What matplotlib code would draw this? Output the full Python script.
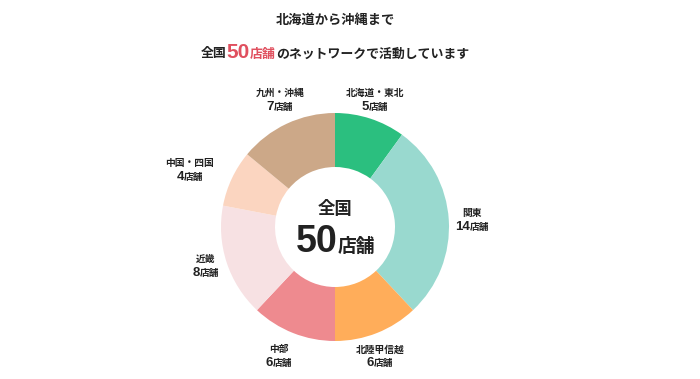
import numpy as np
import matplotlib.pyplot as plt
from matplotlib.offsetbox import TextArea, HPacker, AnnotationBbox

plt.rcParams['font.family'] = ['Noto Sans CJK JP', 'DejaVu Sans']

# データ
regions = ["北海道・東北", "関東", "北陸甲信越", "中部", "近畿", "中国・四国", "九州・沖縄"]
stores = [5, 14, 6, 6, 8, 4, 7]
colors = ["#2bbf7f", "#99d9cf", "#ffad5a", "#ee8a8f", "#f7e1e3", "#fbd5c0", "#cca888"]
# ラベルの位置調整 (中心からの距離px, 角度のずれ)
label_dist = [133, 137, 137, 141, 135, 156, 138]
label_shift = [-0.5, 0.7, 2.4, 1.9, 1.2, -3.7, 1.8]

total = sum(stores)
dark = "#222222"
red = "#e0505f"
num_font = ['Liberation Sans', 'DejaVu Sans']

fig = plt.figure(figsize=(7, 3.79), dpi=100)
ax = fig.add_axes([0, 0, 1, 1])

cx, cy = 335, 379 - 227
R = 114
ax.pie(stores, colors=colors, startangle=90, counterclock=False,
       center=(cx, cy), radius=R, frame=True,
       wedgeprops=dict(width=R - 60, linewidth=0))
ax.set_xlim(0, 700)
ax.set_ylim(0, 379)
ax.set_aspect("equal")
ax.axis("off")


def packed(parts, xy, align="baseline"):
    boxes = [TextArea(t, textprops=p) for t, p in parts]
    box = HPacker(children=boxes, align=align, pad=0, sep=0)
    ab = AnnotationBbox(box, xy, frameon=False, box_alignment=(0.5, 0.5))
    ax.add_artist(ab)


# タイトル
ax.text(cx, 379 - 20, "北海道から沖縄まで", ha="center", va="center",
        fontsize=9.5, fontweight="bold", color=dark)
packed([("全国", dict(fontsize=9.3, fontweight="bold", color=dark)),
        ("50", dict(fontsize=15, fontweight="bold", color=red, family=num_font)),
        ("店舗", dict(fontsize=9.3, fontweight="bold", color=red)),
        ("のネットワークで活動しています", dict(fontsize=9.3, fontweight="bold", color=dark))],
       (cx, 379 - 52))

# 中央
ax.text(cx, cy + 18, "全国", ha="center", va="center",
        fontsize=12.5, fontweight="bold", color=dark)
packed([("50", dict(fontsize=27, fontweight="bold", color=dark, family=num_font)),
        ("店舗", dict(fontsize=13.5, fontweight="bold", color=dark))],
       (cx, cy - 15))

# ラベル
cum = np.cumsum([0] + stores[:-1])
for name, n, c0, d, s in zip(regions, stores, cum, label_dist, label_shift):
    ang = np.deg2rad((c0 + n / 2) / total * 360 + s)
    x = cx + d * np.sin(ang)
    y = cy + d * np.cos(ang)
    ax.text(x, y + 7, name, ha="center", va="center",
            fontsize=7, fontweight="bold", color=dark)
    packed([(str(n), dict(fontsize=9.5, fontweight="bold", color=dark, family=num_font)),
            ("店舗", dict(fontsize=7, fontweight="bold", color=dark))],
           (x, y - 7))

fig.savefig("out.png", dpi=100, facecolor="white")
